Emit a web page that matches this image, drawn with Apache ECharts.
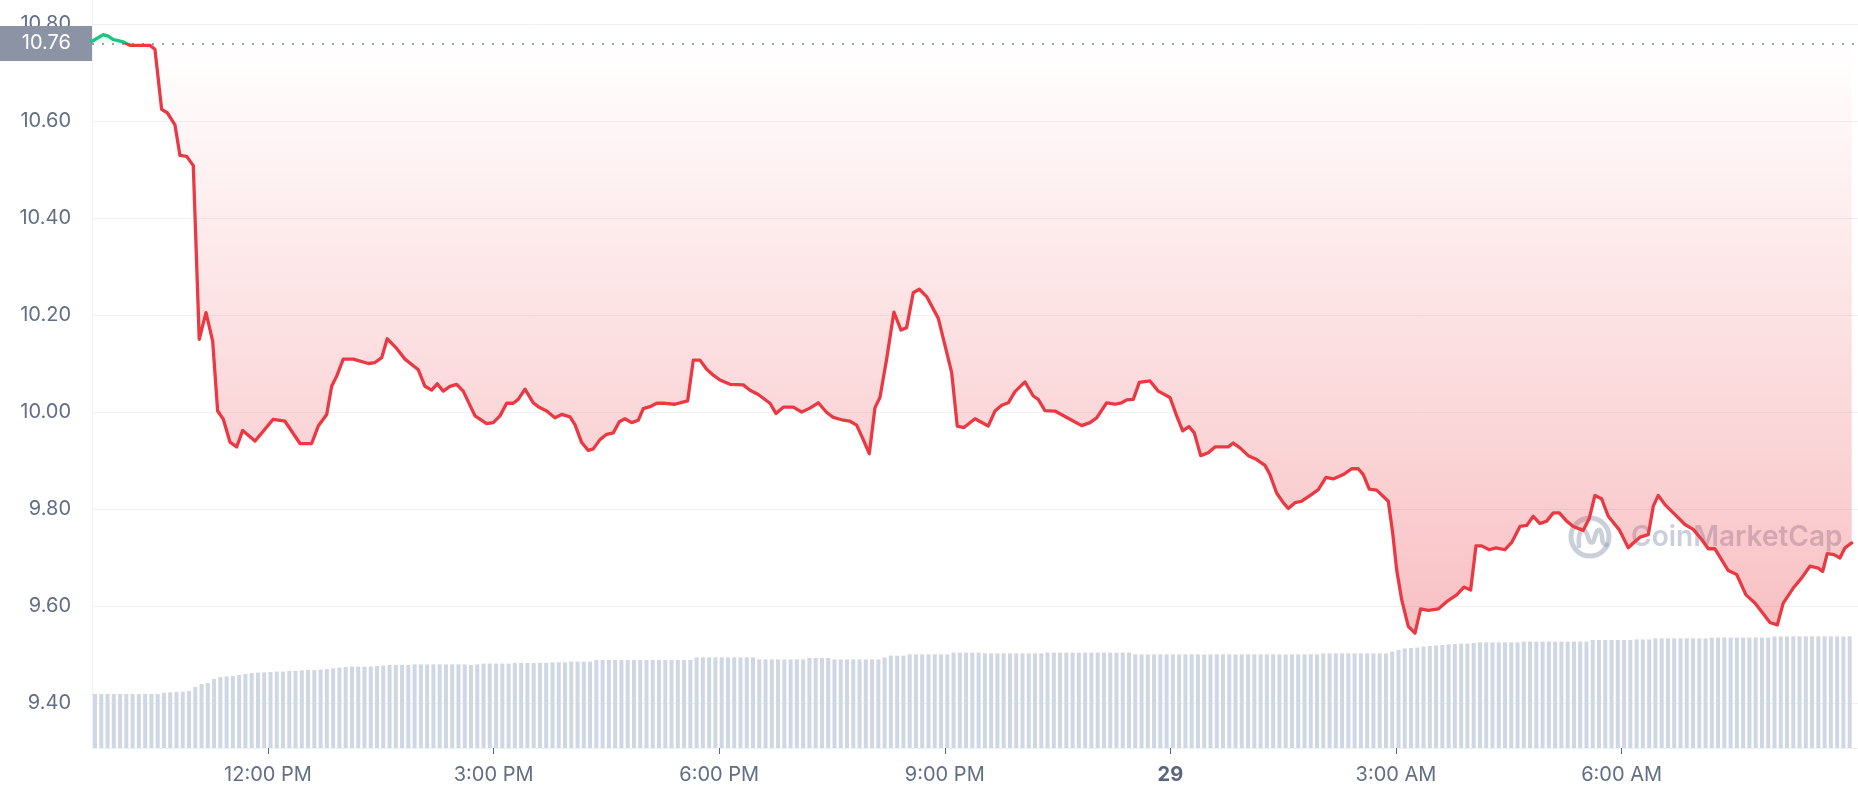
<!DOCTYPE html>
<html>
<head>
<meta charset="utf-8">
<script src="https://cdn.jsdelivr.net/npm/echarts@6/dist/echarts.min.js"></script>
<style>
  html, body { margin: 0; padding: 0; background: #ffffff; }
  #chart { width: 1858px; height: 800px; }
</style>
</head>
<body>
<div id="chart"></div>
<script>
// ---------------- DATA ----------------
// Opening (reference) price shown as the dotted baseline
const openPrice = 10.76;

// Price line: time in hours since 00:00 on the 28th, price in USD
const priceTimes = [
  9.656, 9.810, 9.876, 9.943, 10.076, 10.165, 10.431, 10.497, 10.586, 10.661,
  10.763, 10.830, 10.919, 11.007, 11.086, 11.176, 11.265, 11.331, 11.406, 11.495,
  11.584, 11.664, 11.827, 12.070, 12.226, 12.426, 12.581, 12.669, 12.781, 12.847,
  12.914, 13.001, 13.134, 13.334, 13.423, 13.512, 13.586, 13.711, 13.822, 13.999,
  14.088, 14.177, 14.251, 14.331, 14.420, 14.509, 14.597, 14.753, 14.908, 14.996,
  15.085, 15.174, 15.262, 15.328, 15.418, 15.528, 15.594, 15.706, 15.816, 15.906,
  16.016, 16.082, 16.172, 16.259, 16.326, 16.415, 16.504, 16.592, 16.672, 16.747,
  16.836, 16.924, 16.991, 17.080, 17.169, 17.279, 17.412, 17.501, 17.581, 17.656,
  17.745, 17.834, 17.922, 18.011, 18.144, 18.320, 18.410, 18.520, 18.676, 18.755,
  18.852, 18.985, 19.097, 19.207, 19.318, 19.430, 19.517, 19.629, 19.739, 19.828,
  19.916, 19.996, 20.072, 20.138, 20.227, 20.324, 20.418, 20.493, 20.581, 20.661,
  20.759, 20.914, 21.092, 21.166, 21.255, 21.402, 21.578, 21.668, 21.757, 21.845,
  21.934, 22.066, 22.177, 22.243, 22.332, 22.465, 22.665, 22.820, 22.931, 23.020,
  23.153, 23.263, 23.352, 23.419, 23.507, 23.587, 23.729, 23.839, 23.995, 24.084,
  24.164, 24.247, 24.318, 24.403, 24.504, 24.593, 24.770, 24.837, 24.926, 25.036,
  25.148, 25.258, 25.324, 25.413, 25.501, 25.568, 25.657, 25.746, 25.879, 25.967,
  26.069, 26.166, 26.299, 26.411, 26.499, 26.565, 26.645, 26.743, 26.898, 26.956,
  27.009, 27.076, 27.164, 27.253, 27.328, 27.430, 27.563, 27.674, 27.807, 27.904,
  27.993, 28.064, 28.140, 28.241, 28.330, 28.449, 28.539, 28.649, 28.738, 28.826,
  28.915, 29.004, 29.092, 29.172, 29.270, 29.358, 29.491, 29.571, 29.646, 29.735,
  29.823, 29.970, 30.089, 30.156, 30.245, 30.355, 30.422, 30.488, 30.577, 30.688,
  30.843, 30.953, 31.065, 31.153, 31.242, 31.419, 31.531, 31.654, 31.774, 31.973,
  32.071, 32.150, 32.283, 32.395, 32.505, 32.616, 32.674, 32.735, 32.824, 32.904,
  32.971, 33.060
];
const prices = [
  10.764, 10.778, 10.775, 10.768, 10.763, 10.756, 10.756, 10.748, 10.624, 10.617,
  10.592, 10.529, 10.527, 10.508, 10.150, 10.205, 10.146, 10.002, 9.985, 9.938,
  9.928, 9.962, 9.940, 9.985, 9.981, 9.935, 9.935, 9.971, 9.995, 10.053,
  10.074, 10.109, 10.109, 10.100, 10.102, 10.112, 10.151, 10.131, 10.109, 10.087,
  10.053, 10.045, 10.058, 10.043, 10.053, 10.057, 10.043, 9.992, 9.976, 9.978,
  9.992, 10.018, 10.018, 10.026, 10.047, 10.019, 10.011, 10.002, 9.988, 9.995,
  9.990, 9.974, 9.937, 9.921, 9.924, 9.943, 9.954, 9.957, 9.980, 9.986,
  9.978, 9.983, 10.007, 10.011, 10.018, 10.018, 10.016, 10.020, 10.023, 10.107,
  10.107, 10.088, 10.076, 10.066, 10.057, 10.056, 10.045, 10.036, 10.018, 9.997,
  10.010, 10.010, 10.000, 10.008, 10.019, 9.999, 9.989, 9.984, 9.981, 9.973,
  9.943, 9.914, 10.009, 10.030, 10.109, 10.206, 10.169, 10.174, 10.246, 10.253,
  10.238, 10.193, 10.081, 9.971, 9.968, 9.986, 9.971, 10.002, 10.014, 10.019,
  10.042, 10.062, 10.033, 10.026, 10.003, 10.002, 9.985, 9.972, 9.978, 9.988,
  10.019, 10.016, 10.019, 10.025, 10.026, 10.061, 10.064, 10.043, 10.030, 9.992,
  9.961, 9.970, 9.957, 9.910, 9.916, 9.928, 9.928, 9.936, 9.926, 9.910,
  9.902, 9.890, 9.871, 9.833, 9.813, 9.801, 9.813, 9.816, 9.830, 9.840,
  9.865, 9.862, 9.871, 9.883, 9.883, 9.871, 9.841, 9.839, 9.816, 9.751,
  9.675, 9.613, 9.558, 9.544, 9.594, 9.591, 9.594, 9.609, 9.623, 9.639,
  9.633, 9.724, 9.724, 9.716, 9.720, 9.716, 9.731, 9.764, 9.766, 9.785,
  9.770, 9.775, 9.792, 9.792, 9.775, 9.764, 9.756, 9.781, 9.828, 9.821,
  9.785, 9.757, 9.720, 9.730, 9.742, 9.747, 9.806, 9.828, 9.809, 9.792,
  9.768, 9.758, 9.737, 9.718, 9.718, 9.673, 9.665, 9.623, 9.606, 9.566,
  9.561, 9.606, 9.637, 9.658, 9.682, 9.678, 9.671, 9.708, 9.706, 9.699,
  9.720, 9.730
];

// Volume bars: one bar every 5 minutes starting 9:42 AM (values in millions, relative)
const volumeStartHour = 9.7;
const volumeStepMinutes = 5;
const volumes = [
  27.0, 27.0, 27.0, 27.0, 27.0, 27.0, 27.0, 27.0, 27.0, 27.0, 27.0,
  27.6, 27.8, 28.0, 28.2, 28.5,
  30.5, 32.0, 32.5, 34.5, 35.5, 35.8, 36.0, 36.5, 37.0, 37.5, 37.7, 37.8, 38.0,
  38.2, 38.2, 38.5, 38.5, 38.8, 39.0, 39.0, 39.2, 39.5, 39.8, 40.2, 40.5,
  40.7, 40.7, 40.7, 40.7,
  41.0, 41.2,
  41.5, 41.5, 41.5, 41.5,
  41.8, 41.8, 41.8, 41.8, 41.8, 41.8, 41.8, 41.8, 41.8,
  41.5, 41.8,
  42.2, 42.2, 42.2, 42.2, 42.2,
  42.5, 42.5, 42.5, 42.5, 42.5, 42.5,
  42.8, 42.8, 42.8,
  43.2, 43.2, 43.2, 43.2,
  44.0, 44.0, 44.0, 44.0, 44.0, 44.0, 44.0, 44.0, 44.0, 44.0, 44.0, 44.0, 44.0, 44.0, 44.0, 44.0,
  45.3, 45.3, 45.3, 45.3, 45.3, 45.3, 45.3, 45.3, 45.3, 45.3,
  44.3, 44.3, 44.3, 44.3, 44.3, 44.3, 44.3, 44.3,
  45.0, 45.0, 45.0, 45.0,
  44.3, 44.3, 44.3, 44.3, 44.3, 44.3, 44.3, 44.3,
  45.3,
  46.2, 46.2, 46.2,
  46.8, 46.8, 46.8, 46.8, 46.8, 46.8, 46.8,
  47.7, 47.7, 47.7, 47.7, 47.7,
  47.3, 47.3, 47.3, 47.3, 47.3, 47.3, 47.3, 47.3, 47.3, 47.3,
  47.7, 47.7, 47.7, 47.7, 47.7, 47.7, 47.7, 47.7, 47.7, 47.7, 47.7, 47.7, 47.7, 47.7,
  46.8, 46.8, 46.8, 46.8, 46.8, 46.8, 46.8, 46.8, 46.8, 46.8,
  46.8, 46.8, 46.8, 46.8, 46.8, 46.8, 46.8, 46.8, 46.8, 46.8,
  46.8, 46.8, 46.8, 46.8, 46.8, 46.8, 46.8, 46.8, 46.8, 46.8,
  47.3, 47.3, 47.3, 47.3, 47.3, 47.3, 47.3, 47.3, 47.3, 47.3, 47.3,
  48.2, 49.0, 49.8, 50.0, 50.2, 50.7, 51.0, 51.2, 51.5, 51.8, 52.0, 52.2, 52.2, 52.5,
  52.8, 52.8, 52.8, 52.8, 52.8, 52.8, 52.8,
  53.2, 53.2, 53.2, 53.2, 53.2, 53.2, 53.2, 53.2, 53.2, 53.2, 53.2,
  54.0, 54.0, 54.0, 54.0, 54.0, 54.0, 54.0,
  54.3, 54.3, 54.3,
  54.8, 54.8, 54.8, 54.8, 54.8, 54.8, 54.8, 54.8, 54.8,
  55.2, 55.2, 55.2, 55.2, 55.2, 55.2, 55.2, 55.2, 55.2, 55.2,
  55.8, 55.8, 55.8, 55.8, 55.8, 55.8, 55.8, 55.8, 55.8, 55.8, 55.8, 55.8, 55.8
];

// Axis ticks
const xTickHours = [12, 15, 18, 21, 24, 27, 30];
const xTickLabels = ['12:00 PM', '3:00 PM', '6:00 PM', '9:00 PM', '29', '3:00 AM', '6:00 AM'];
const xDayTick = '29';
const yMin = 9.4, yMax = 10.8, yStep = 0.2;
const xMin = 9.66, xMax = 33.144;
const volumeAxisMax = 374;

// ---------------- CHART ----------------
const RED = '#EA3943', GREEN = '#16C784';
const FONT = 'Inter';
const WM = 'rgba(150,160,182,0.5)';
const chart = echarts.init(document.getElementById('chart'), null, { renderer: 'canvas' });

const lineData = priceTimes.map((t, i) => [t, prices[i]]);
const volData = volumes.map((v, i) => [volumeStartHour + i * volumeStepMinutes / 60, v]);

const areaGradient = new echarts.graphic.LinearGradient(0, 24, 0, 640, [
  { offset: 0, color: 'rgba(22,199,132,0.25)' },
  { offset: 0.0315, color: 'rgba(22,199,132,0.05)' },
  { offset: 0.0316, color: 'rgba(234,57,67,0.0)' },
  { offset: 1, color: 'rgba(234,57,67,0.32)' }
], true);

const option = {
  animation: false,
  backgroundColor: '#ffffff',
  textStyle: { fontFamily: FONT },
  grid: [
    { left: 92, right: 0, top: 24, bottom: 97 },
    { left: 92, right: 0, top: 0, bottom: 52 }
  ],
  xAxis: [
    { type: 'value', gridIndex: 0, min: xMin, max: xMax, show: false },
    {
      type: 'value', gridIndex: 1, min: xMin, max: xMax,
      axisLine: { show: true, lineStyle: { color: '#EFF2F5', width: 1 } },
      axisTick: { show: true, customValues: xTickHours, length: 6, lineStyle: { color: '#58667E', width: 1 } },
      axisLabel: {
        customValues: xTickHours,
        margin: 17,
        fontSize: 20,
        fontFamily: FONT,
        color: '#616E85',
        formatter: function (v) {
          const idx = xTickHours.indexOf(Math.round(v));
          const txt = idx >= 0 ? xTickLabels[idx] : '';
          return txt === xDayTick ? '{b|' + txt + '}' : txt;
        },
        rich: { b: { fontSize: 20, fontFamily: FONT, fontWeight: 'bold', color: '#58667E' } }
      },
      splitLine: { show: false }
    }
  ],
  yAxis: [
    {
      type: 'value', gridIndex: 0, min: yMin, max: yMax, interval: yStep,
      axisLine: { show: false },
      axisTick: { show: false },
      axisLabel: {
        margin: 21, fontSize: 20, fontFamily: FONT, color: '#616E85',
        formatter: v => v.toFixed(2)
      },
      splitLine: { show: true, lineStyle: { color: '#EFF2F5', width: 1 } }
    },
    {
      type: 'value', gridIndex: 1, min: 0, max: volumeAxisMax,
      axisLine: { show: true, lineStyle: { color: '#EFF2F5', width: 1 } },
      axisTick: { show: false },
      axisLabel: { show: false },
      splitLine: { show: false }
    }
  ],
  visualMap: {
    type: 'piecewise',
    show: false,
    seriesIndex: 1,
    dimension: 1,
    pieces: [
      { gt: openPrice, lte: 100, color: GREEN },
      { gte: 0, lte: openPrice, color: RED }
    ]
  },
  graphic: [
    {
      type: 'group', z: 1, silent: true,
      children: [
        { type: 'circle', shape: { cx: 1590, cy: 537, r: 19 },
          style: { fill: 'none', stroke: WM, lineWidth: 5 } },
        { type: 'polyline',
          shape: { points: [[1579, 546], [1579, 537], [1582, 530], [1586, 532], [1590, 542], [1593, 542], [1597, 531], [1600, 530], [1602, 536], [1603, 543], [1607, 545]], smooth: 0.3 },
          style: { fill: 'none', stroke: WM, lineWidth: 4.5, lineCap: 'round', lineJoin: 'round' } },
        { type: 'text', x: 1631, y: 538,
          style: { text: 'CoinMarketCap', font: '600 28px Inter', fill: WM, verticalAlign: 'middle', align: 'left' } }
      ]
    }
  ],
  series: [
    {
      name: 'Volume', type: 'bar', xAxisIndex: 1, yAxisIndex: 1,
      data: volData, barWidth: 4, silent: true,
      itemStyle: { color: '#CFD6E4' }
    },
    {
      name: 'Price', type: 'line', xAxisIndex: 0, yAxisIndex: 0,
      data: lineData, symbol: 'none', smooth: false, z: 5,
      lineStyle: { width: 3.3, join: 'round', cap: 'round' },
      areaStyle: { origin: openPrice, color: areaGradient, opacity: 1 },
      markLine: {
        silent: true, symbol: 'none', animation: false,
        data: [{ yAxis: openPrice }],
        lineStyle: { color: '#9AA1B3', type: [2, 8], width: 2 },
        label: {
          show: true, position: 'start', distance: 0,
          formatter: openPrice.toFixed(2),
          fontSize: 20, fontFamily: FONT, color: '#ffffff',
          backgroundColor: '#8C93A5',
          padding: [6, 21, 6, 22], lineHeight: 23
        }
      }
    }
  ]
};
chart.setOption(option);
</script>
</body>
</html>
